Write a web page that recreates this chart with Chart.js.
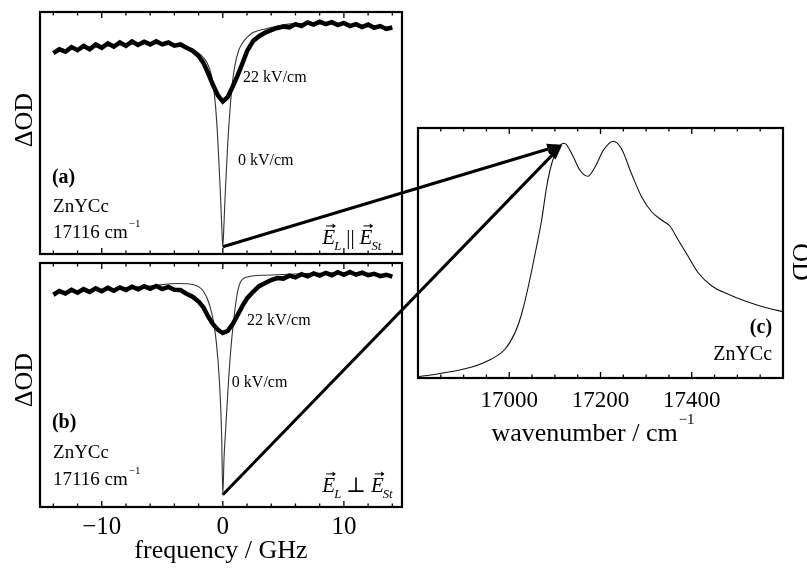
<!DOCTYPE html>
<html>
<head>
<meta charset="utf-8">
<title>ZnYCc hole burning, Stark effect</title>
<script src="https://cdn.jsdelivr.net/npm/chart.js@4.4.1/dist/chart.umd.min.js"></script>
<style>
  body { margin: 0; background: #fff; }
  #wrap { position: relative; width: 807px; height: 568px; overflow: hidden; }
  canvas { position: absolute; }
</style>
</head>
<body>
<div id="wrap">
  <canvas id="panelA" width="410" height="258" style="left:0px;top:0px"></canvas>
  <canvas id="panelB" width="410" height="310" style="left:0px;top:258px"></canvas>
  <canvas id="panelC" width="397" height="330" style="left:410px;top:120px"></canvas>
  <canvas id="arrows" width="807" height="568" style="left:0px;top:0px"></canvas>
</div>
<script>
// frequency grid of the noisy 22 kV/cm traces (GHz)
const freqNoisy = [-14,-13.5,-13,-12.5,-12,-11.5,-11,-10.5,-10,-9.5,-9,-8.5,-8,-7.5,-7,-6.5,-6,-5.5,-5,-4.5,-4,-3.5,-3,-2.5,-2,
  -1.6,-1.2,-0.8,-0.4,0,0.4,0.8,1.2,1.6,
  2,2.5,3,3.5,4,4.5,5,5.5,6,6.5,7,7.5,8,8.5,9,9.5,10,10.5,11,11.5,12,12.5,13,13.5,14];

// (a) E_L || E_St, 22 kV/cm
const parallelField = [0.830,0.846,0.836,0.855,0.842,0.860,0.846,0.866,0.852,0.870,0.857,0.874,0.860,0.878,0.864,0.877,0.866,0.879,0.866,0.874,0.861,0.866,0.852,0.840,0.818,
  0.790,0.745,0.697,0.655,0.630,0.648,0.690,0.735,0.785,
  0.838,0.880,0.900,0.915,0.925,0.934,0.940,0.936,0.950,0.942,0.957,0.948,0.960,0.950,0.958,0.946,0.955,0.942,0.950,0.938,0.948,0.935,0.942,0.930,0.936];

// (b) E_L perp E_St, 22 kV/cm
const perpField = [0.870,0.885,0.875,0.890,0.878,0.893,0.881,0.896,0.884,0.898,0.886,0.900,0.889,0.903,0.892,0.905,0.894,0.906,0.893,0.902,0.890,0.889,0.874,0.862,0.842,
  0.818,0.780,0.748,0.726,0.713,0.722,0.748,0.785,0.822,
  0.855,0.882,0.905,0.918,0.930,0.938,0.936,0.948,0.941,0.954,0.945,0.957,0.948,0.959,0.950,0.962,0.952,0.963,0.952,0.960,0.950,0.956,0.946,0.952,0.944];

// 0 kV/cm holes
const freqHoleA = [-14,-10,-6,-3.5,-2.5,-2,-1.6,-1.3,-1,-0.8,-0.6,-0.4,-0.2,-0.1,0,0.1,0.2,0.4,0.6,0.8,1,1.3,1.6,2,2.5,3.5,6,10,14];
const holeA = [0.838,0.858,0.870,0.862,0.845,0.830,0.812,0.790,0.750,0.700,0.610,0.460,0.250,0.130,0.030,0.130,0.250,0.450,0.600,0.710,0.780,0.840,0.870,0.895,0.915,0.930,0.952,0.950,0.935];
const freqHoleB = [-14,-10,-6,-3.7,-2.4,-1.6,-1.1,-0.7,-0.4,-0.2,-0.1,0,0.1,0.25,0.45,0.65,0.9,1.2,1.5,2.2,3.5,6,10,14];
const holeB = [0.877,0.892,0.906,0.916,0.911,0.884,0.829,0.740,0.603,0.438,0.300,0.050,0.200,0.330,0.500,0.640,0.767,0.877,0.925,0.945,0.950,0.955,0.960,0.948];

// (c) absorption spectrum
const wavenumber = [16800,16845,16918,16962,16991,17013,17028,17042,17057,17071,17082,17093,17108,17121,17137,17155,17172,17188,17206,17228,17246,17268,17290,17312,17334,17352,17370,17392,17414,17444,17480,17517,17561,17600];
const absorbance = [0.005,0.017,0.044,0.077,0.116,0.183,0.262,0.368,0.500,0.632,0.765,0.857,0.923,0.939,0.897,0.831,0.807,0.844,0.910,0.947,0.917,0.817,0.725,0.665,0.632,0.608,0.553,0.487,0.421,0.368,0.335,0.308,0.282,0.265];

const freqTicks = [-10, 0, 10];
const wnTicks = [17000, 17200, 17400];
const laserWn = 17116;

const SERIF = '"Liberation Serif", "DejaVu Serif", serif';
const font = (size, style) => `${style || ''} ${size}px ${SERIF}`;
const pts = (xs, ys) => xs.map((x, i) => ({ x: x, y: ys[i] }));

// box + inward ticks on top and bottom
const framePlugin = {
  id: 'frame',
  afterDatasetsDraw(chart, args, o) {
    const { ctx, chartArea: a } = chart;
    const x = chart.scales.x;
    ctx.save();
    ctx.strokeStyle = '#000';
    ctx.lineWidth = 1.3;
    for (let v = o.from; v <= o.to + 1e-9; v += o.step) {
      const px = x.getPixelForValue(v);
      const r = v / o.major;
      const len = Math.abs(r - Math.round(r)) < 1e-6 ? 6 : 3.5;
      ctx.beginPath();
      ctx.moveTo(px, a.bottom); ctx.lineTo(px, a.bottom - len);
      ctx.moveTo(px, a.top); ctx.lineTo(px, a.top + len);
      ctx.stroke();
    }
    ctx.lineWidth = 2.2;
    ctx.strokeRect(a.left, a.top, a.right - a.left, a.bottom - a.top);
    ctx.restore();
  }
};

function drawVecE(ctx, x, base, sub, size) {
  ctx.font = font(size, 'italic');
  const w = ctx.measureText('E').width;
  ctx.fillText('E', x, base);
  const ay = base - size * 0.86;
  ctx.lineWidth = 1;
  ctx.beginPath();
  ctx.moveTo(x + w * 0.3, ay); ctx.lineTo(x + w * 1.0, ay);
  ctx.stroke();
  ctx.beginPath();
  ctx.moveTo(x + w * 1.05, ay); ctx.lineTo(x + w * 0.8, ay - 2.5); ctx.lineTo(x + w * 0.8, ay + 2.5);
  ctx.closePath(); ctx.fill();
  ctx.font = font(size * 0.6, 'italic');
  ctx.fillText(sub, x + w - 1, base + size * 0.3);
  return x + w - 1 + ctx.measureText(sub).width;
}

// panel annotations placed as fractions of the plot area
const notesPlugin = {
  id: 'notes',
  afterDraw(chart, args, o) {
    const { ctx, chartArea: a } = chart;
    const W = a.right - a.left, H = a.bottom - a.top;
    ctx.save();
    ctx.fillStyle = '#000';
    ctx.strokeStyle = '#000';
    (o.items || []).forEach(it => {
      const x = a.left + it.fx * W;
      const y = a.top + it.fy * H;
      if (it.kind === 'text') {
        ctx.font = font(it.size, it.bold ? 'bold' : '');
        ctx.textAlign = it.align || 'left';
        ctx.textBaseline = 'middle';
        ctx.fillText(it.text, x, y);
      } else if (it.kind === 'wn') {
        ctx.font = font(it.size);
        ctx.textAlign = 'left';
        ctx.textBaseline = 'middle';
        ctx.fillText(it.text, x, y);
        const w = ctx.measureText(it.text).width;
        ctx.font = font(11);
        ctx.fillText('\u22121', x + w + 1, y - it.size * 0.45);
      } else if (it.kind === 'vec') {
        ctx.textAlign = 'left';
        ctx.textBaseline = 'alphabetic';
        const base = y + it.size * 0.33;
        let cx = drawVecE(ctx, x, base, it.sub1, it.size);
        ctx.font = font(it.size);
        ctx.fillText(it.op, cx + 5, base);
        cx += 5 + ctx.measureText(it.op).width + 5;
        drawVecE(ctx, cx, base, it.sub2, it.size);
      } else if (it.kind === 'ylabel') {
        ctx.translate(it.px, it.py);
        ctx.rotate(it.rot);
        ctx.font = font(it.size);
        ctx.textAlign = 'center';
        ctx.textBaseline = 'middle';
        ctx.fillText(it.text, 0, 0);
        ctx.setTransform(1, 0, 0, 1, 0, 0);
      } else if (it.kind === 'xtitle') {
        ctx.font = font(it.size);
        const w = ctx.measureText(it.text).width;
        ctx.font = font(15);
        const ws = ctx.measureText('\u22121').width;
        const x0 = (a.left + a.right) / 2 + it.dx - (w + ws) / 2;
        const base = a.bottom + it.dy;
        ctx.textAlign = 'left';
        ctx.textBaseline = 'alphabetic';
        ctx.font = font(it.size);
        ctx.fillText(it.text, x0, base);
        ctx.font = font(15);
        ctx.fillText('\u22121', x0 + w + 1, base - 17);
      }
    });
    ctx.restore();
  }
};

function holePanel(id, noisy, holeX, holeY, showAxis, items, padTop, padBottom) {
  return new Chart(document.getElementById(id), {
    type: 'line',
    data: {
      datasets: [
        { data: pts(freqNoisy, noisy), borderColor: '#000', borderWidth: 4.5, pointRadius: 0, tension: 0 },
        { data: pts(holeX, holeY), borderColor: '#333', borderWidth: 1.1, pointRadius: 0, cubicInterpolationMode: 'monotone' }
      ]
    },
    options: {
      responsive: false,
      animation: false,
      devicePixelRatio: 1,
      layout: { padding: { left: 40, right: 8, top: padTop, bottom: padBottom } },
      plugins: {
        legend: { display: false },
        tooltip: { enabled: false },
        frame: { from: -14, to: 14, step: 2, major: 10 },
        notes: { items: items }
      },
      scales: {
        x: {
          type: 'linear', min: -15.1, max: 14.8, display: showAxis,
          grid: { display: false, drawTicks: false },
          border: { display: false },
          afterBuildTicks: s => { s.ticks = freqTicks.map(v => ({ value: v })); },
          afterFit: s => { s.height = showAxis ? 61 : 0; },
          ticks: {
            padding: 8, color: '#000',
            font: { family: SERIF, size: 25, lineHeight: 1 },
            callback: v => String(v).replace('-', '\u2212')
          },
          title: {
            display: true, text: 'frequency / GHz', color: '#000',
            font: { family: SERIF, size: 26, lineHeight: 1 },
            padding: { top: 0, bottom: 4 }
          }
        },
        y: { min: 0, max: 1, display: false }
      }
    },
    plugins: [framePlugin, notesPlugin]
  });
}

const chartA = holePanel('panelA', parallelField, freqHoleA, holeA, false, [
  { kind: 'ylabel', text: '\u0394OD', px: 25, py: 120, rot: -Math.PI / 2, size: 26 },
  { kind: 'text', text: '22 kV/cm', fx: 0.561, fy: 0.27, size: 16 },
  { kind: 'text', text: '0 kV/cm', fx: 0.547, fy: 0.616, size: 16 },
  { kind: 'text', text: '(a)', fx: 0.033, fy: 0.686, size: 20, bold: true },
  { kind: 'text', text: 'ZnYCc', fx: 0.036, fy: 0.806, size: 19 },
  { kind: 'wn', text: '17116 cm', fx: 0.036, fy: 0.913, size: 19 },
  { kind: 'vec', sub1: 'L', op: '||', sub2: 'St', fx: 0.78, fy: 0.93, size: 21 }
], 12, 4);

const chartB = holePanel('panelB', perpField, freqHoleB, holeB, true, [
  { kind: 'ylabel', text: '\u0394OD', px: 25, py: 122, rot: -Math.PI / 2, size: 26 },
  { kind: 'text', text: '22 kV/cm', fx: 0.572, fy: 0.238, size: 16 },
  { kind: 'text', text: '0 kV/cm', fx: 0.530, fy: 0.492, size: 16 },
  { kind: 'text', text: '(b)', fx: 0.033, fy: 0.656, size: 20, bold: true },
  { kind: 'text', text: 'ZnYCc', fx: 0.036, fy: 0.779, size: 19 },
  { kind: 'wn', text: '17116 cm', fx: 0.036, fy: 0.889, size: 19 },
  { kind: 'vec', sub1: 'L', op: '\u22A5', sub2: 'St', fx: 0.78, fy: 0.91, size: 21 }
], 5, 0);

const chartC = new Chart(document.getElementById('panelC'), {
  type: 'line',
  data: {
    datasets: [
      { data: pts(wavenumber, absorbance), borderColor: '#111', borderWidth: 1.1, pointRadius: 0, cubicInterpolationMode: 'monotone' }
    ]
  },
  options: {
    responsive: false,
    animation: false,
    devicePixelRatio: 1,
    layout: { padding: { left: 8, right: 24, top: 8, bottom: 0 } },
    plugins: {
      legend: { display: false },
      tooltip: { enabled: false },
      frame: { from: 16850, to: 17550, step: 50, major: 200 },
      notes: { items: [
        { kind: 'text', text: '(c)', fx: 0.97, fy: 0.80, size: 20, bold: true, align: 'right' },
        { kind: 'text', text: 'ZnYCc', fx: 0.97, fy: 0.908, size: 20, align: 'right' },
        { kind: 'xtitle', text: 'wavenumber / cm', size: 26, dx: -8, dy: 63 },
        { kind: 'ylabel', text: 'OD', px: 390, py: 142, rot: Math.PI / 2, size: 26 }
      ] }
    },
    scales: {
      x: {
        type: 'linear', min: 16800, max: 17600,
        grid: { display: false, drawTicks: false },
        border: { display: false },
        afterBuildTicks: s => { s.ticks = wnTicks.map(v => ({ value: v })); },
        afterFit: s => { s.height = 72; },
        ticks: { padding: 11, color: '#000', font: { family: SERIF, size: 23, lineHeight: 1 }, callback: v => String(v) }
      },
      y: { min: 0, max: 1, display: false }
    }
  },
  plugins: [framePlugin, notesPlugin]
});

// arrows from the hole centres in (a) and (b) to the laser position in (c)
function pagePoint(chart, xv, yv) {
  const el = chart.canvas;
  return [el.offsetLeft + chart.scales.x.getPixelForValue(xv), el.offsetTop + chart.scales.y.getPixelForValue(yv)];
}
function interp(xs, ys, x) {
  for (let i = 1; i < xs.length; i++) {
    if (x <= xs[i]) {
      const t = (x - xs[i - 1]) / (xs[i] - xs[i - 1]);
      return ys[i - 1] + t * (ys[i] - ys[i - 1]);
    }
  }
  return ys[ys.length - 1];
}

const tip = pagePoint(chartC, laserWn, interp(wavenumber, absorbance, laserWn));
const startA = pagePoint(chartA, 0, interp(freqHoleA, holeA, 0));
const startB = pagePoint(chartB, 0, interp(freqHoleB, holeB, 0));

const actx = document.getElementById('arrows').getContext('2d');
actx.strokeStyle = '#000';
actx.fillStyle = '#000';
actx.lineWidth = 3;
[startA, startB].forEach(s => {
  const ang = Math.atan2(tip[1] - s[1], tip[0] - s[0]);
  const back = [tip[0] - 12 * Math.cos(ang), tip[1] - 12 * Math.sin(ang)];
  actx.beginPath();
  actx.moveTo(s[0], s[1]);
  actx.lineTo(back[0], back[1]);
  actx.stroke();
  actx.beginPath();
  actx.moveTo(tip[0], tip[1]);
  actx.lineTo(tip[0] - 15 * Math.cos(ang) + 5.5 * Math.sin(ang), tip[1] - 15 * Math.sin(ang) - 5.5 * Math.cos(ang));
  actx.lineTo(tip[0] - 15 * Math.cos(ang) - 5.5 * Math.sin(ang), tip[1] - 15 * Math.sin(ang) + 5.5 * Math.cos(ang));
  actx.closePath();
  actx.fill();
});
</script>
</body>
</html>
